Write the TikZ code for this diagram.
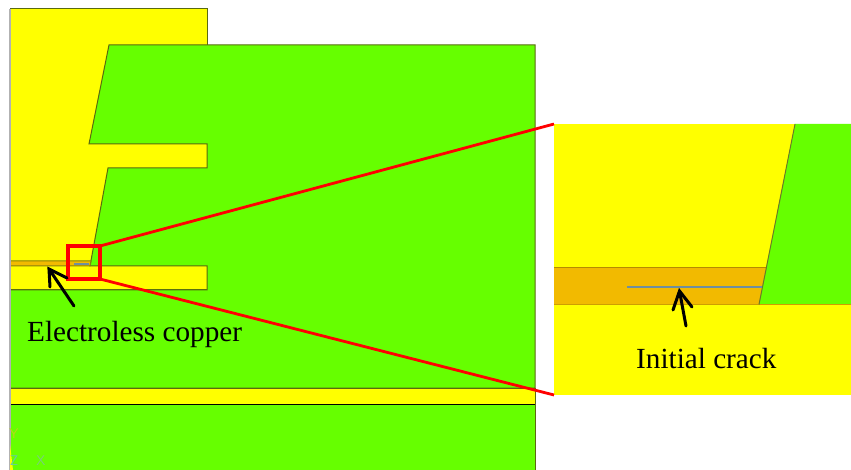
\documentclass[tikz,border=0pt]{standalone}
\usepackage{fontspec}
\setmainfont{Liberation Serif}
\definecolor{cuyellow}{HTML}{FFFF00}
\definecolor{resgreen}{HTML}{66FF00}
\definecolor{eless}{HTML}{F2BA00}
\definecolor{crackc}{HTML}{6E8FA0}
\definecolor{edgec}{HTML}{5A6A10}
\tikzset{
  region/.style={draw=edgec,line width=1pt,line join=miter},
  redline/.style={draw=red,line width=2.8pt},
  pointer/.style={draw=black,line width=3pt,line cap=round,line join=miter},
  lbl/.style={font=\fontsize{29.2}{32}\selectfont,inner sep=0pt,text=black},
  triad/.style={font=\fontsize{14}{16}\selectfont\sffamily,inner sep=0pt}
}
\begin{document}
\begin{tikzpicture}[x=1pt,y=-1pt]
\useasboundingbox (0,0) rectangle (851,470);
\fill[white] (0,0) rectangle (851,470);
% main model
\draw[region,fill=cuyellow] (10,9) -- (207,9) -- (207,290) -- (10,290) -- cycle;
\draw[region,fill=resgreen] (109,45) -- (535,45) -- (535,388) -- (10,388) -- (10,290) -- (207,290) -- (207,266) -- (90,266) -- (108,168) -- (207,168) -- (207,144) -- (89,144) -- cycle;
\draw[region,fill=eless,draw=edgec!70!eless] (10,261) -- (91,261) -- (90,266) -- (10,266) -- cycle;
\fill[cuyellow] (10,388.500) rectangle (535,404);
\draw[region] (10,388) -- (535,388);
\draw[region,draw=black] (10,404) -- (535,404);
\fill[resgreen] (10,404.500) rectangle (535,470);
\draw[region] (535,388) -- (535,470);
\draw[crackc,line width=1.4pt] (74,264) -- (89,264);
\draw[gray!60,line width=1.2pt] (10,9) -- (10,470);
% triad
\fill[cuyellow] (10,444) -- (13,470) -- (10,470) -- cycle;
\node[triad,text=yellow!70!green] (ty) at (14,434) {Y};
\node[triad,text=cyan!35!green!60!white] (tz) at (14,461) {Z};
\node[triad,text=green!50!gray!70!white] (tx) at (41,461) {X};
% inset
\fill[cuyellow] (554,124) rectangle (851,395);
\fill[resgreen] (795,124) -- (851,124) -- (851,304.500) -- (759,304.500) -- cycle;
\fill[eless] (554,267.500) -- (766,267.500) -- (759,304.500) -- (554,304.500) -- cycle;
\draw[draw=black!25!eless,line width=1pt] (554,267.500) -- (766,267.500);
\draw[draw=black!15!eless,line width=1pt] (554,304.500) -- (851,304.500);
\draw[draw=edgec!90,line width=1pt] (795,124) -- (759,304.500);
\draw[crackc,line width=1.8pt] (627,287) -- (762,287);
% zoom box and leaders
\coordinate (boxtr) at (100,246);
\coordinate (boxbr) at (100,279);
\coordinate (instl) at (554,124);
\coordinate (insbl) at (554,395);
\draw[redline,line width=3.2pt,line join=miter] (68,246) rectangle (100,279);
\draw[redline] (boxtr) -- (instl);
\draw[redline] (boxbr) -- (insbl);
% pointers
\coordinate (p1) at (49,269);
\coordinate (p2) at (679.500,291);
\draw[pointer] (74,306) -- (p1);
\draw[pointer] (50,287) -- (p1) -- (67,278);
\draw[pointer] (686,326) -- (p2);
\draw[pointer] (673,310) -- (p2) -- (692,307);
% labels
\node[lbl,anchor=base west] (ec) at (27,341) {Electroless copper};
\node[lbl,anchor=base west] (ic) at (636,368) {Initial crack};
\end{tikzpicture}
\end{document}
